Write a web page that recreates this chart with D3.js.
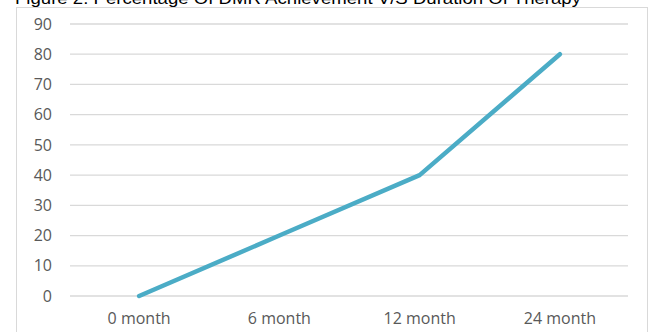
<!DOCTYPE html>
<html>
<head>
<meta charset="utf-8">
<script src="https://cdn.jsdelivr.net/npm/d3@7"></script>
<style>
  body { margin: 0; background: #fff; }
  svg { display: block; }
</style>
</head>
<body>
<svg id="chart" width="651" height="332"></svg>
<script>
const title = "Figure 2: Percentage Of DMR Achievement V/S Duration Of Therapy";
const categories = ["0 month", "6 month", "12 month", "24 month"];
const values = [0, 20, 40, 80];
const yTicks = [0, 10, 20, 30, 40, 50, 60, 70, 80, 90];

const svg = d3.select("#chart");
const W = 651, H = 332;
const margin = { left: 69, right: 21, top: 24, bottom: 36 };
const labelFont = "Open Sans, Calibri, sans-serif";

// chart frame
svg.append("rect")
    .attr("x", 16.5).attr("y", 7.5)
    .attr("width", 631).attr("height", 340)
    .attr("fill", "#fff")
    .attr("stroke", "#d9d9d9");

// title, mostly clipped at the top like the source
svg.append("text")
    .attr("x", 15).attr("y", 4)
    .attr("font-family", "Liberation Sans, Arial, sans-serif")
    .attr("font-size", 17)
    .attr("fill", "#000")
    .attr("textLength", 566)
    .attr("lengthAdjust", "spacingAndGlyphs")
    .text(title);

const x = d3.scaleBand()
    .domain(categories)
    .range([margin.left, W - margin.right]);

const y = d3.scaleLinear()
    .domain([0, 90])
    .range([H - margin.bottom, margin.top]);

// gridlines
svg.append("g")
  .selectAll("line")
  .data(yTicks)
  .enter().append("line")
    .attr("x1", margin.left + 1)
    .attr("x2", W - margin.right - 2)
    .attr("y1", d => y(d))
    .attr("y2", d => y(d))
    .attr("stroke", "#d9d9d9")
    .attr("stroke-width", 1.3);

// y axis labels
const yAxis = svg.append("g")
    .attr("transform", `translate(${margin.left},0)`)
    .call(d3.axisLeft(y).tickValues(yTicks).tickSize(0).tickPadding(17));
yAxis.select(".domain").remove();
yAxis.selectAll("text")
    .attr("font-family", labelFont)
    .attr("font-size", 16)
    .attr("fill", "#595959");

// x axis labels
const xAxis = svg.append("g")
    .attr("transform", `translate(0,${H - margin.bottom})`)
    .call(d3.axisBottom(x).tickSize(0).tickPadding(17));
xAxis.select(".domain").remove();
xAxis.selectAll("text")
    .attr("font-family", labelFont)
    .attr("font-size", 16)
    .attr("fill", "#595959");

// series line
const line = d3.line()
    .x((d, i) => x(categories[i]) + x.bandwidth() / 2)
    .y(d => y(d));

svg.append("path")
    .datum(values)
    .attr("d", line)
    .attr("fill", "none")
    .attr("stroke", "#4bacc6")
    .attr("stroke-width", 4.5)
    .attr("stroke-linejoin", "round")
    .attr("stroke-linecap", "round");
</script>
</body>
</html>
